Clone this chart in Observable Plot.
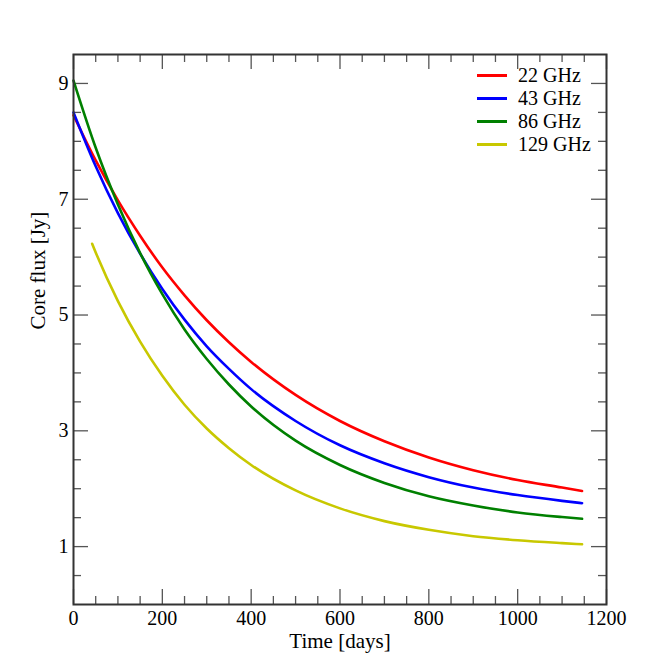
<!DOCTYPE html>
<html><head><meta charset="utf-8">
<script src="https://cdn.jsdelivr.net/npm/d3@7"></script>
<script src="https://cdn.jsdelivr.net/npm/@observablehq/plot@0.6"></script>
<style>
body{margin:0;background:#fff;}
#wrap{position:relative;width:659px;height:668px;font-family:"Liberation Serif","Times New Roman",serif;}
#legend{position:absolute;left:477px;top:63.5px;}
.row{display:flex;align-items:center;height:23px;font-size:20px;line-height:23px;color:#000;}
.sw{width:30px;height:3px;margin-right:11px;}
</style></head><body><div id="wrap"><div id="legend"></div></div>
<script>
// ---- data ----
const seriesNames = ["22 GHz", "43 GHz", "86 GHz", "129 GHz"];
const seriesColors = ["#ff0000", "#0000ff", "#008000", "#c8c800"];
const days = [0, 50, 100, 150, 200, 250, 300, 350, 400, 500, 600, 700, 800, 900, 1000, 1100, 1145];
const flux22 = [8.45, 7.67, 6.98, 6.37, 5.82, 5.34, 4.91, 4.53, 4.19, 3.62, 3.17, 2.82, 2.54, 2.32, 2.15, 2.02, 1.96];
const flux43 = [8.50, 7.57, 6.76, 6.06, 5.45, 4.92, 4.46, 4.07, 3.72, 3.17, 2.75, 2.44, 2.20, 2.02, 1.89, 1.79, 1.75];
const flux86 = [9.05, 7.89, 6.91, 6.07, 5.36, 4.75, 4.24, 3.80, 3.42, 2.83, 2.41, 2.10, 1.87, 1.71, 1.59, 1.51, 1.48];
const days129 = [42, 50, 100, 150, 200, 250, 300, 350, 400, 500, 600, 700, 800, 900, 1000, 1100, 1145];
const flux129 = [6.23, 6.08, 5.24, 4.54, 3.95, 3.45, 3.04, 2.70, 2.41, 1.97, 1.66, 1.44, 1.29, 1.18, 1.11, 1.06, 1.04];
const xMajor = [0, 200, 400, 600, 800, 1000, 1200];
const yMajor = [1, 3, 5, 7, 9];
const xMinor = d3.range(50, 1200, 50).filter(d => d % 200 !== 0);
const yMinor = d3.range(0.5, 9.5, 0.5).filter(d => !yMajor.includes(d));
const xLabel = "Time [days]";
const yLabel = "Core flux [Jy]";

// ---- table ----
const data = [];
days.forEach((t, i) => data.push({t, v: flux22[i], s: seriesNames[0]}));
days.forEach((t, i) => data.push({t, v: flux43[i], s: seriesNames[1]}));
days.forEach((t, i) => data.push({t, v: flux86[i], s: seriesNames[2]}));
days129.forEach((t, i) => data.push({t, v: flux129[i], s: seriesNames[3]}));

const W = 659, H = 668, mL = 73, mR = 53, mT = 54, mB = 64;
const iW = W - mL - mR, iH = H - mT - mB;
const tickColor = "#555", tw = 1.3;

const chart = Plot.plot({
  width: W, height: H,
  marginLeft: mL, marginRight: mR, marginTop: mT, marginBottom: mB,
  style: {fontFamily: "Liberation Serif, Times New Roman, serif", fontSize: "20px", background: "white", color: "black"},
  x: {domain: [0, 1200]},
  y: {domain: [0, 9.5]},
  color: {domain: seriesNames, range: seriesColors},
  marks: [
    Plot.ruleX(xMinor, {insetTop: iH - 8, stroke: tickColor, strokeWidth: tw}),
    Plot.ruleX(xMajor, {insetTop: iH - 15, stroke: tickColor, strokeWidth: tw}),
    Plot.ruleX(xMinor, {insetBottom: iH - 8, stroke: tickColor, strokeWidth: tw}),
    Plot.ruleX(xMajor, {insetBottom: iH - 15, stroke: tickColor, strokeWidth: tw}),
    Plot.ruleY(yMinor, {insetRight: iW - 8, stroke: tickColor, strokeWidth: tw}),
    Plot.ruleY(yMajor, {insetRight: iW - 15, stroke: tickColor, strokeWidth: tw}),
    Plot.ruleY(yMinor, {insetLeft: iW - 8, stroke: tickColor, strokeWidth: tw}),
    Plot.ruleY(yMajor, {insetLeft: iW - 15, stroke: tickColor, strokeWidth: tw}),
    Plot.axisX({ticks: xMajor, tickSize: 0, tickPadding: 6, tickFormat: d => String(d), fill: "black", label: null}),
    Plot.axisY({ticks: yMajor, tickSize: 0, tickPadding: 5, tickFormat: d => String(d), fill: "black", label: null}),
    Plot.text([xLabel], {text: d => d, frameAnchor: "bottom", lineAnchor: "bottom", dy: 43, fontSize: 21, fill: "black"}),
    Plot.text([yLabel], {text: d => d, frameAnchor: "left", rotate: -90, lineAnchor: "top", dx: -43, fontSize: 21, fill: "black"}),
    Plot.line(data, {x: "t", y: "v", z: "s", stroke: "s", strokeWidth: 2.6, curve: "monotone-x"}),
    Plot.frame({stroke: "#333", strokeWidth: 2})
  ]
});
const wrap = document.getElementById("wrap");
wrap.insertBefore(chart, wrap.firstChild);

const legend = document.getElementById("legend");
seriesNames.forEach((n, i) => {
  const row = document.createElement("div");
  row.className = "row";
  const sw = document.createElement("div");
  sw.className = "sw";
  sw.style.background = seriesColors[i];
  const tx = document.createElement("span");
  tx.textContent = n;
  row.appendChild(sw); row.appendChild(tx);
  legend.appendChild(row);
});
</script>
</body></html>
